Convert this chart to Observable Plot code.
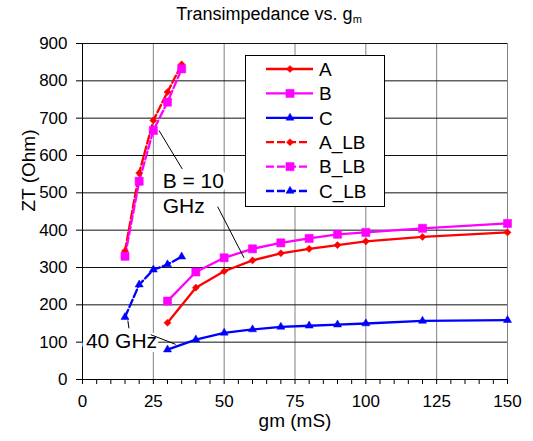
<!DOCTYPE html>
<html><head><meta charset="utf-8">
<script src="https://cdn.jsdelivr.net/npm/d3@7"></script>
<script src="https://cdn.jsdelivr.net/npm/@observablehq/plot@0.6"></script>
<style>
body{margin:0;background:#fff;font-family:"Liberation Sans",Arial,sans-serif;}
#wrap{position:relative;width:533px;height:441px;}
#title{position:absolute;top:3px;left:269px;transform:translateX(-50%);font-size:18px;white-space:nowrap;color:#000;line-height:22px}
#title sub{font-size:11px;vertical-align:-3px;line-height:0}
</style></head><body>
<div id="wrap"><div id="title">Transimpedance vs. g<sub>m</sub></div></div>
<script>
// ---- data ----
const gm = [30, 40, 50, 60, 70, 80, 90, 100, 120, 150];
const ztA = [152, 246, 290, 319, 338, 350, 360, 370, 382, 394];
const ztB = [210, 288, 326, 350, 366, 378, 389, 394, 405, 418];
const ztC = [80, 107, 125, 134, 141, 144, 147, 150, 157, 159];
const gmLB = [15, 20, 25, 30, 35];
const ztA_LB = [344, 553, 694, 770, 844];
const ztB_LB = [330, 531, 667, 743, 832];
const ztC_LB = [167, 254, 294, 308, 329];
const seriesNames = ["A", "B", "C", "A_LB", "B_LB", "C_LB"];
const xTicks = [0, 25, 50, 75, 100, 125, 150];
const yTicks = [0, 100, 200, 300, 400, 500, 600, 700, 800, 900];
const notes = [
  {label: "B = 10\nGHz", x: 28.3, y: 500},
  {label: "40 GHz", x: 1.2, y: 107}
];
const leaders = [
  {x1: 27.0, y1: 667, x2: 35.2, y2: 564},
  {x1: 47.7, y1: 463, x2: 57.0, y2: 326},
  {x1: 16.4, y1: 137, x2: 16.0, y2: 158},
  {x1: 24.1, y1: 120, x2: 32.9, y2: 94}
];

// ---- build tables ----
const colors = {A: "#ff0000", B: "#ff00ff", C: "#0000ff", A_LB: "#ff0000", B_LB: "#ff00ff", C_LB: "#0000ff"};
const symbols = {A: "diamond2", B: "square", C: "triangle", A_LB: "diamond2", B_LB: "square", C_LB: "triangle"};
const radii = {diamond2: 3.2, square: 4.6, triangle: 3.0};
function rows(name, xs, ys) { return xs.map((x, i) => ({name, x, y: ys[i]})); }
const solidRows = [...rows("A", gm, ztA), ...rows("B", gm, ztB), ...rows("C", gm, ztC)];
const lbRows = [...rows("A_LB", gmLB, ztA_LB), ...rows("B_LB", gmLB, ztB_LB), ...rows("C_LB", gmLB, ztC_LB)];
const minorX = d3.range(0, 151, 5);

function dotMarks(data) {
  return ["diamond2", "square", "triangle"].map(sym =>
    Plot.dot(data.filter(d => symbols[d.name] === sym), {
      x: "x", y: "y", symbol: () => sym, r: radii[sym],
      fill: d => colors[d.name], stroke: d => colors[d.name], strokeWidth: 0.5
    })
  );
}

const chart = Plot.plot({
  width: 533, height: 441,
  marginLeft: 82, marginRight: 26, marginTop: 43, marginBottom: 62,
  x: {domain: [0, 150]},
  y: {domain: [0, 900]},
  symbol: {type: "identity"},
  style: {fontFamily: "'Liberation Sans', Arial, sans-serif", fontSize: "17px", color: "#000", background: "#fff"},
  marks: [
    Plot.ruleX(xTicks.filter(d => d > 0), {stroke: "#808080", strokeWidth: 1}),
    Plot.ruleY(yTicks.filter(d => d > 0), {stroke: "#111", strokeWidth: 1}),
    Plot.axisX(minorX.filter(d => d % 25 !== 0), {tickSize: 5, text: null, label: null}),
    Plot.axisX(xTicks, {tickSize: 5, tickPadding: 10, label: null, fontSize: 17}),
    Plot.axisY(yTicks, {tickSize: 6, tickPadding: 9, label: null, fontSize: 17}),
    Plot.ruleY([0], {stroke: "#000", strokeWidth: 1}),
    Plot.ruleX([0], {stroke: "#000", strokeWidth: 1}),
    Plot.line(solidRows, {x: "x", y: "y", z: "name", stroke: d => colors[d.name], strokeWidth: 2.3}),
    Plot.line(lbRows, {x: "x", y: "y", z: "name", stroke: d => colors[d.name], strokeWidth: 2.3, strokeDasharray: "8,3"}),
    ...dotMarks(solidRows),
    ...dotMarks(lbRows),
    Plot.text(notes, {x: "x", y: "y", text: "label", textAnchor: "start", fontSize: 21, lineHeight: 1.2, fill: "#000", stroke: "#fff", strokeWidth: 8}),
    Plot.link(leaders, {x1: "x1", y1: "y1", x2: "x2", y2: "y2", stroke: "#000", strokeWidth: 1}),
    Plot.text(["gm (mS)"], {frameAnchor: "bottom", dy: 47, fontSize: 19}),
    Plot.text(["ZT (Ohm)"], {frameAnchor: "left", dx: -54, rotate: -90, fontSize: 19})
  ]
});
document.getElementById("wrap").prepend(chart);

// ---- legend ----
const svg = d3.select(chart);
const lg = svg.append("g").attr("class", "legend").attr("text-anchor", "start");
lg.append("rect").attr("x", 245.5).attr("y", 55.5).attr("width", 139).attr("height", 151)
  .attr("fill", "#fff").attr("stroke", "#000").attr("stroke-width", 1);
seriesNames.forEach((name, i) => {
  const cy = 69 + i * 24.4;
  const dashed = name.endsWith("_LB");
  lg.append("line").attr("x1", 266).attr("x2", dashed ? 309 : 313).attr("y1", cy).attr("y2", cy)
    .attr("stroke", colors[name]).attr("stroke-width", 2.3)
    .attr("stroke-dasharray", dashed ? "8,3" : null);
  const sym = symbols[name];
  const d3sym = sym === "diamond2" ? d3.symbolDiamond2 : sym === "square" ? d3.symbolSquare : d3.symbolTriangle;
  const r = radii[sym];
  lg.append("path").attr("d", d3.symbol(d3sym, Math.PI * r * r)())
    .attr("transform", `translate(290,${cy})`).attr("fill", colors[name]).attr("stroke", colors[name]).attr("stroke-width", 0.5);
  lg.append("text").attr("x", 319).attr("y", cy).attr("dy", "0.36em").attr("text-anchor", "start")
    .attr("font-size", 19).attr("fill", "#000").text(name);
});
</script>
</body></html>
